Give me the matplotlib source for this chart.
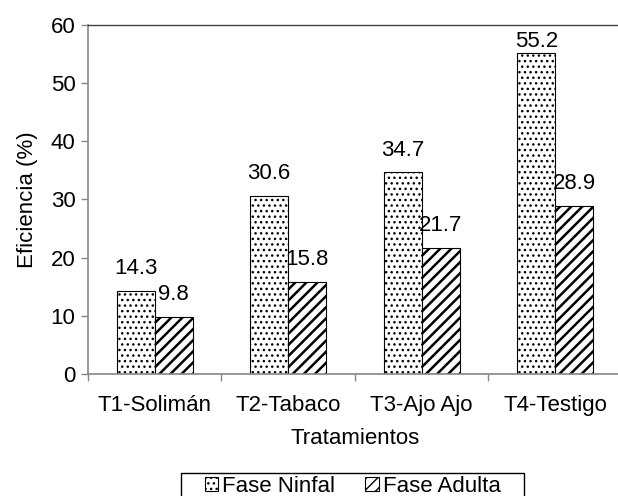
import numpy as np
import matplotlib.pyplot as plt
from matplotlib.patches import Rectangle

plt.rcParams['font.family'] = ['Liberation Sans', 'DejaVu Sans']

tratamientos = ['T1-Solimán', 'T2-Tabaco', 'T3-Ajo Ajo', 'T4-Testigo']
fase_ninfal = [14.3, 30.6, 34.7, 55.2]
fase_adulta = [9.8, 15.8, 21.7, 28.9]

axis_grey = '#868686'
fs = 16

fig = plt.figure(figsize=(6.18, 4.96), dpi=100)
ax = fig.add_axes([0.1424, 0.246, 0.864, 0.7036])

x = np.arange(len(tratamientos))
width = 0.285
with plt.rc_context({'hatch.linewidth': 1.0}):
    b1 = ax.bar(x - width / 2, fase_ninfal, width, color='white', edgecolor='black',
                hatch='...', linewidth=0.8, label='Fase Ninfal')
with plt.rc_context({'hatch.linewidth': 1.8}):
    b2 = ax.bar(x + width / 2, fase_adulta, width, color='white', edgecolor='black',
                hatch='///', linewidth=0.8, label='Fase Adulta')

# value labels above each bar, kept inside the plot area at the top
for bars, vals in ((b1, fase_ninfal), (b2, fase_adulta)):
    for rect, v in zip(bars, vals):
        ypos = min(v + 2.0, 55.4)
        ax.text(rect.get_x() + rect.get_width() / 2, ypos, f'{v:.1f}',
                ha='center', va='bottom', fontsize=fs)

ax.set_xlim(-0.5, len(tratamientos) - 0.5)
ax.set_ylim(0, 60)
ax.set_yticks(range(0, 61, 10))
ax.set_xticks(x)
ax.set_xticklabels(tratamientos, fontsize=fs)
ax.set_xticks(np.arange(-0.5, len(tratamientos)), minor=True)
ax.tick_params(axis='x', which='major', length=0, pad=15)
ax.tick_params(axis='x', which='minor', length=5, color=axis_grey, width=1)
ax.tick_params(axis='y', length=5, color=axis_grey, width=1, labelsize=fs, pad=4)

for side in ('left', 'bottom'):
    ax.spines[side].set_color(axis_grey)
    ax.spines[side].set_linewidth(1.2)
ax.spines['top'].set_color('#404040')
ax.spines['top'].set_linewidth(1.0)
ax.spines['right'].set_visible(False)

ax.set_xlabel('Tratamientos', fontsize=fs, labelpad=9)
ax.set_ylabel('Eficiencia (%)', fontsize=fs, labelpad=9)

# legend entries without frame; the box is drawn separately so it can be wider
fig.legend(handles=[b1, b2], loc='center', bbox_to_anchor=(0.571, 0.020),
           ncol=2, fontsize=fs, frameon=False,
           handlelength=0.6, handleheight=0.6, handletextpad=0.2,
           columnspacing=1.35, borderpad=0, borderaxespad=0)
fig.patches.append(Rectangle((0.293, -0.03), 0.555, 0.077, transform=fig.transFigure,
                             fill=False, edgecolor='black', linewidth=1.0))

fig.savefig('out.png', dpi=100)
